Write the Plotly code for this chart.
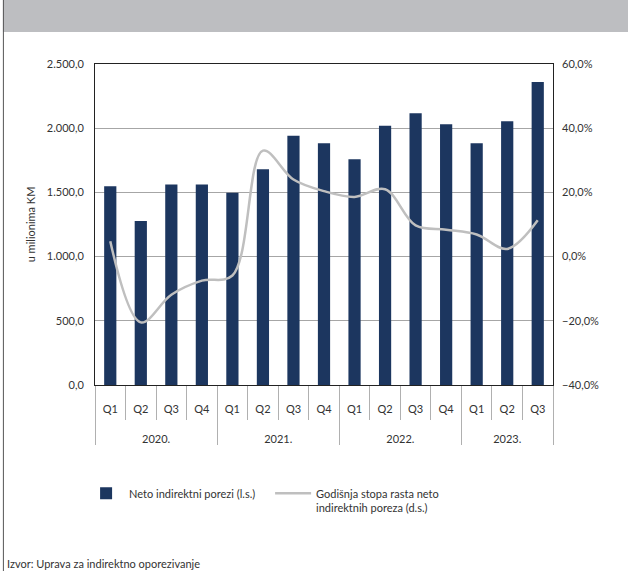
import plotly.graph_objects as go

# neto indirektni porezi, mil. KM (lijeva skala) i godisnja stopa rasta u % (desna skala)
years = ["2020."] * 4 + ["2021."] * 4 + ["2022."] * 4 + ["2023."] * 3
quarters = ["Q1", "Q2", "Q3", "Q4"] * 3 + ["Q1", "Q2", "Q3"]
neto_porezi = [1547, 1278, 1562, 1562, 1497, 1680, 1942, 1883, 1758,
               2020, 2117, 2031, 1883, 2055, 2359]
stopa_rasta = [4.8, -20.5, -11.9, -7.5, -5.9, 33.0, 24.0, 20.4, 18.6,
               21.0, 9.7, 8.4, 6.9, 2.4, 11.3]

# godine spustene ispod oznaka kvartala
year_labels = ["<br><br>" + y for y in years]

font = "Lato"
txt = "#333333"

fig = go.Figure()
fig.add_trace(go.Bar(
    x=[year_labels, quarters], y=neto_porezi,
    name="Neto indirektni porezi (l.s.)",
    marker=dict(color="#1c365f", line=dict(width=0)),
))
fig.add_trace(go.Scatter(
    x=[year_labels, quarters], y=stopa_rasta, yaxis="y2",
    name="Godišnja stopa rasta neto<br>indirektnih poreza (d.s.)",
    mode="lines", line=dict(color="#bfbfbf", width=2.5, shape="spline", smoothing=1.0),
))

fig.update_layout(
    width=628, height=571,
    margin=dict(l=95, r=75, t=64, b=186),
    paper_bgcolor="white", plot_bgcolor="white",
    separators=",.",
    font=dict(family=font, size=11, color=txt),
    bargap=0.6,
    showlegend=True,
    legend=dict(orientation="h", x=-0.026, xanchor="left", y=-0.295, yanchor="top",
                font=dict(size=11, color=txt), itemwidth=36, entrywidth=136,
                traceorder="normal", valign="top"),
    xaxis=dict(type="multicategory", showline=True, linecolor="#222", linewidth=1,
               mirror=True, ticks="outside", ticklen=34, tickcolor="#b0b0b0",
               showdividers=True, dividercolor="#b0b0b0", dividerwidth=1,
               ticklabelstandoff=14, tickfont=dict(size=11, color=txt)),
    yaxis=dict(range=[0, 2500], dtick=500, tickformat=",.1f",
               showgrid=True, gridcolor="#a6a6a6", gridwidth=1,
               showline=True, linecolor="#222", linewidth=1, mirror=True,
               ticks="", ticklabelstandoff=8, zeroline=False,
               title=dict(text="u milionima KM", font=dict(size=11, color=txt), standoff=8)),
    yaxis2=dict(range=[-40, 60], dtick=20, tickformat=".1f", ticksuffix="%",
                overlaying="y", side="right", showgrid=False, zeroline=False,
                showline=False, ticks="", ticklabelstandoff=8),
    shapes=[
        dict(type="rect", xref="paper", yref="paper", x0=-0.201, x1=1.2, y0=1.1, y1=1.2,
             fillcolor="#bdbec1", line=dict(width=0), layer="below"),
        dict(type="line", xref="paper", yref="paper", x0=-0.2, x1=-0.2, y0=-0.59, y1=1.2,
             line=dict(color="#555555", width=1)),
    ],
    annotations=[
        dict(text="Izvor: Uprava za indirektno oporezivanje", xref="paper", yref="paper",
             x=-0.196, y=-0.555, xanchor="left", yanchor="middle", showarrow=False,
             font=dict(size=11, color=txt)),
    ],
)

fig.write_html("out.html", config={"displayModeBar": False},
               post_script="document.body.style.margin='0';")
